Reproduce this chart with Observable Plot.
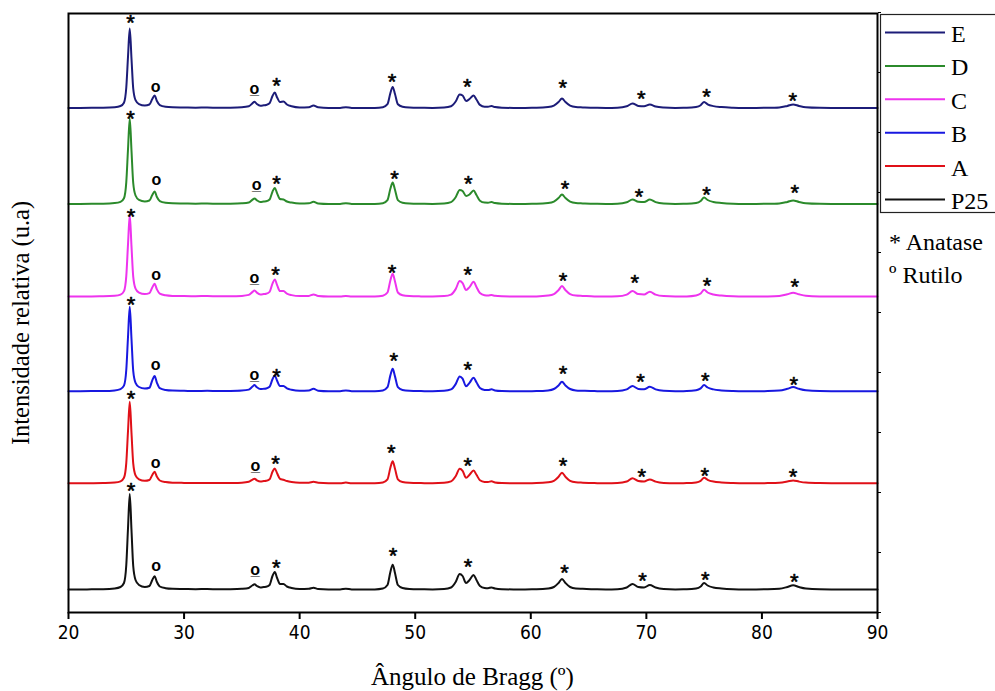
<!DOCTYPE html>
<html>
<head>
<meta charset="utf-8">
<script src="https://cdn.jsdelivr.net/npm/d3@7"></script>
<script src="https://cdn.jsdelivr.net/npm/@observablehq/plot@0.6"></script>
<style>
  html, body { margin: 0; padding: 0; background: #fff; }
  #chart { width: 995px; height: 691px; overflow: hidden; }
</style>
</head>
<body>
<div id="chart"></div>
<script>
// 2θ sample positions (degrees) shared by all patterns
const angles = [20,21,22,23,24,24.5,24.8,25.0,25.15,25.3,25.45,25.6,25.8,26.1,26.6,27.0,27.25,27.45,27.65,27.9,28.4,29,30,31,32,33,34,35,35.6,35.9,36.1,36.3,36.6,36.9,37.1,37.4,37.65,37.85,38.05,38.3,38.6,38.9,39.3,40,40.8,41.2,41.6,42.5,43.5,44.0,44.5,45.5,46.5,47.2,47.6,47.85,48.05,48.25,48.5,48.9,49.5,50.5,51.5,52.5,53.1,53.5,53.85,54.1,54.4,54.7,55.05,55.3,55.6,56.0,56.3,56.6,56.9,57.5,58.5,59.5,60.5,61.5,62.0,62.4,62.7,63.0,63.4,63.9,64.5,65.5,66.5,67.5,68.3,68.8,69.3,69.8,70.3,70.8,71.5,72.5,73.5,74.3,74.7,75.0,75.3,75.8,76.5,77.5,78.5,79.5,80.5,81.5,82.2,82.7,83.2,83.8,85,86,87,88,89,90];

// intensities above each pattern's own baseline (u.a.)
const intensityE = [0.5,0.6,0.7,0.8,1.3, 2.5,5.8,21,52,80,50,20,8.3, 4.4,3, 4,9.5,13,7.5,3.4, 1.7,1.2,1,0.8,1,0.7,0.8,1.2, 2.2,5,6.7,4.5,2.8,3.2,3.5,5.2,12.5,16,11,6.5,7,4,2.2,1,1.3,3,1.2, 0.6,0.6,1.3,0.6,0.5,0.6, 1.3,4.3,15.4,21.6,14.5,4.3,1.8, 1,0.7,0.6,1, 2.3,7,14,13,7.5,9.5,13,9,3.6,1.8,1.8,2.5,1.4, 0.8,0.6,0.6,0.7, 1.4,2.8,6.4,10,6.4,2.8,1.4, 1.1,0.7,0.6,0.8, 2.2,5,2.6,2.2,4,2, 1,0.6,0.7, 1.5,3.3,6.6,4.2,2.4, 1.4,0.8,0.6,0.6,0.7, 1.1,2.6,4,2.6,1.3, 0.7,0.6,0.6,0.5,0.6,0.5];
const intensityD = [0.5,0.6,0.7,0.8,1.4, 2.7,6.3,22.4,55.5,86,54,21.5,9, 4.6,3, 4,9.5,13,7.5,3.4, 1.7,1.2,1,0.8,1,0.7,0.8,1.2, 2,4.6,6,4.2,2.6,3,3.2,5,12.8,16.6,11.2,5.5,5,3,1.9,1,1.2,2.7,1.1, 0.6,0.6,1.2,0.6,0.5,0.6, 1.3,4.4,15.7,22,14.8,4.4,1.8, 1,0.7,0.6,1, 2.4,7.3,14.6,13.5,8.5,10,14,9.5,3.8,1.9,1.8,2.5,1.4, 0.8,0.6,0.6,0.7, 1.4,2.8,6.4,10,6.4,2.8,1.4, 1.1,0.7,0.6,0.8, 2.2,5,2.7,2.4,5,2.4, 1,0.6,0.7, 1.5,3.5,7,4.5,2.5, 1.5,0.8,0.6,0.6,0.7, 1.1,2.6,4,2.6,1.3, 0.7,0.6,0.6,0.5,0.6,0.5];
const intensityC = [0.5,0.6,0.7,0.8,1.3, 2.5,6,21,53,82,51,20.5,8.5, 4.5,3, 4,9.7,13.3,7.7,3.5, 1.8,1.2,1,0.9,1.1,0.8,0.8,1.2, 2.2,5,6.7,4.5,2.7,3.1,3.4,5.2,13.5,17.7,12,6,6,3.5,2,1,1.2,2.7,1.1, 0.6,0.6,1.2,0.6,0.5,0.6, 1.4,4.6,16.6,23.3,15.6,4.6,1.8, 1,0.7,0.6,1, 2.5,8,16,14,7,10,15.3,10.2,4,1.9,1.6,2,1.3, 0.8,0.6,0.6,0.7, 1.5,3,7,11,7,3,1.5, 1.2,0.7,0.6,0.8, 2.5,6,3,2.6,5.3,2.5, 1,0.6,0.7, 1.6,3.6,7.3,4.6,2.6, 1.5,0.8,0.6,0.6,0.7, 1.1,2.8,4.3,2.8,1.4, 0.7,0.6,0.6,0.5,0.6,0.5];
const intensityB = [0.5,0.6,0.7,0.8,1.4, 2.7,6.2,22,55,85,53,21,9, 4.8,3.2, 4,11.5,15.7,9,3.6, 1.8,1.2,1,0.8,1,0.7,0.8,1.2, 2.2,5,6.7,4.5,2.7,3,3.3,5,12.5,16.3,11,5.8,5.7,3.4,2,1,1.3,3,1.1, 0.6,0.6,1.3,0.6,0.5,0.6, 1.4,4.6,16.4,23,15.4,4.6,1.8, 1,0.7,0.6,1, 2.4,7.7,15.4,13.2,5.5,9,14,9.5,3.8,1.9,1.7,2.5,1.4, 0.8,0.6,0.6,0.7, 1.4,2.8,6.4,10,6.4,2.8,1.4, 1.1,0.7,0.6,0.8, 2.4,5.7,2.9,2.5,5,2.4, 1,0.6,0.7, 1.5,3.4,6.7,4.3,2.4, 1.4,0.8,0.6,0.6,0.7, 1.2,3,4.7,3,1.5, 0.7,0.6,0.6,0.5,0.6,0.5];
const intensityA = [0.6,0.5,0.6,0.8,1.3, 2.5,6,21,53,82,51,20.5,8.5, 4.5,3, 3.8,8.8,12,7,3.3, 1.7,1.1,0.9,0.8,0.9,0.7,0.8,1.1, 2,4,5,3.5,2.3,2.7,3,4.5,12,15.4,10.5,5,4,2.8,1.8,1,1.1,2,1, 0.6,0.6,1.2,0.6,0.5,0.6, 1.4,4.5,16,22.6,15,4.5,1.8, 1,0.7,0.6,1, 2.4,7.5,15,13,6,9,13.3,9,3.6,1.9,1.8,2.6,1.4, 0.8,0.6,0.6,0.7, 1.5,3,7,11,7,3,1.5, 1.1,0.7,0.6,0.8, 2.3,5.6,2.8,2.3,4.4,2.2, 0.9,0.6,0.7, 1.4,3,6,4,2.2, 1.3,0.8,0.6,0.6,0.7, 1,2.2,3.4,2.2,1.2, 0.7,0.6,0.6,0.5,0.6,0.5];
const intensityP25 = [0.5,0.5,0.7,0.8,1.5, 3,7,25,62,96,60,24,10, 5,3, 4,10,13.7,8,3.5, 1.8,1.2,1,0.8,1.0,0.7,0.8,1.2, 2,4.5,5.7,4,2.5,3,3.2,5,14,18,12,6,6,3.5,2,1,1.2,2.3,1, 0.6,0.6,1.3,0.6,0.5,0.6, 1.5,5,18,25.3,17,5,2, 1,0.7,0.6,1, 2.5,8,16,14,7,10,15,10,4,2,1.8,2.6,1.5, 0.8,0.6,0.6,0.7, 1.5,3,7,11,7,3,1.5, 1.2,0.7,0.6,0.8, 2.5,6,3,2.5,5,2.5, 1,0.6,0.7, 1.5,3.5,7,4.5,2.5, 1.5,0.8,0.6,0.6,0.7, 1.2,3,4.7,3,1.5, 0.7,0.6,0.6,0.5,0.6,0.5];

const seriesNames = ["E", "D", "C", "B", "A", "P25"];
const seriesIntensity = [intensityE, intensityD, intensityC, intensityB, intensityA, intensityP25];
const seriesColors = ["#1c1c78", "#2b8a2b", "#ee33ee", "#1818e0", "#e01018", "#111111"];
const stackOffsets = [504, 408, 315.4, 220.7, 128.7, 22.5];

// anatase (*) marker positions per pattern
const anataseAngles = [
  [25.36, 38.0, 48.0, 54.5, 62.77, 69.55, 75.2, 82.67],
  [25.36, 38.0, 48.2, 54.6, 62.97, 69.37, 75.2, 82.84],
  [25.42, 37.92, 48.0, 54.55, 62.8, 69.0, 75.26, 82.84],
  [25.42, 38.0, 48.15, 54.55, 62.8, 69.5, 75.1, 82.76],
  [25.42, 37.92, 47.92, 54.55, 62.8, 69.6, 75.06, 82.7],
  [25.42, 37.97, 48.09, 54.58, 62.91, 69.67, 75.1, 82.81]
];
const anataseLevels = [
  [595.3, 533, 537, 532, 530.3, 519.3, 521.3, 518],
  [499.3, 435, 439.3, 434.3, 429.3, 421.3, 423.7, 426],
  [402, 343.7, 346, 343.7, 337.7, 336, 332.5, 331.3],
  [313.7, 242, 258, 248.7, 244.3, 237, 237.7, 233.7],
  [219.3, 154.3, 165.3, 152.7, 153, 142, 142.7, 142],
  [127.7, 50.3, 62.7, 52, 45.3, 38, 38.7, 36.3]
];
// rutile (o) marker positions per pattern
const rutileAngles = [
  [27.53, 36.09], [27.61, 36.27], [27.59, 36.09], [27.53, 36.09], [27.53, 36.18], [27.59, 36.15]
];
const rutileLevels = [
  [526, 524], [432.7, 428], [338, 334.7], [247.7, 237.7], [150, 147], [47, 43]
];
const rutileSymbols = ["o", "o\u0332"];

const xTicks = [20, 30, 40, 50, 60, 70, 80, 90];
const yTicks = [0, 60, 120, 180, 240, 300, 360, 420, 480, 540, 600];

const xTitle = "Ângulo de Bragg (º)";
const yTitle = "Intensidade relativa (u.a)";
const legendNotes = ["* Anatase", "º Rutilo"];

// build tables
const rows = [];
seriesNames.forEach((name, s) => {
  seriesIntensity[s].forEach((v, i) => rows.push({name, angle: angles[i], level: stackOffsets[s] + v}));
});
const stars = [];
anataseAngles.forEach((arr, s) => arr.forEach((a, i) => stars.push({angle: a, level: anataseLevels[s][i]})));
const rutiles = [];
rutileAngles.forEach((arr, s) => arr.forEach((a, i) => rutiles.push({angle: a, level: rutileLevels[s][i], sym: rutileSymbols[i]})));

const W = 995, H = 691, mL = 68, mR = 118, mT = 13, mB = 79;
const serif = "'Liberation Serif', 'Times New Roman', serif";

const chart = Plot.plot({
  width: W, height: H,
  marginLeft: mL, marginRight: mR, marginTop: mT, marginBottom: mB,
  style: {fontFamily: "'Liberation Sans Narrow', 'DejaVu Sans Condensed', sans-serif", fontSize: "19px", color: "#000", background: "#fff"},
  x: {domain: [20, 90]},
  y: {domain: [0, 599]},
  color: {domain: seriesNames, range: seriesColors},
  marks: [
    Plot.line(rows, {x: "angle", y: "level", z: "name", stroke: "name", strokeWidth: 2, curve: "monotone-x"}),
    Plot.text(stars, {x: "angle", y: "level", text: () => "*", dy: 6, fontSize: 22, fontFamily: "'Liberation Sans', sans-serif", fill: "#000", stroke: "#000", strokeWidth: 0.6}),
    Plot.text(rutiles, {x: "angle", y: "level", text: "sym", fontSize: 16, fontWeight: "bold", fontFamily: "'Liberation Sans', sans-serif", fill: "#000"}),
    Plot.axisX({ticks: xTicks, tickSize: 7, tickPadding: 6, strokeWidth: 2, label: null, fontSize: 19}),
    Plot.axisY({anchor: "right", ticks: yTicks, tickSize: 3, tickFormat: () => "", label: null}),
    Plot.frame({stroke: "#000", strokeWidth: 2})
  ]
});
document.getElementById("chart").appendChild(chart);

// axis titles and legend
const svg = d3.select(chart);
svg.append("text")
  .attr("x", (mL + (W - mR)) / 2).attr("y", 685)
  .attr("text-anchor", "middle")
  .style("font-family", serif)
  .style("font-size", "25px")
  .text(xTitle);
svg.append("text")
  .attr("transform", "translate(29,323) rotate(-90)")
  .attr("text-anchor", "middle")
  .style("font-family", serif)
  .style("font-size", "24.5px")
  .text(yTitle);

const lg = svg.append("g");
lg.append("rect").attr("x", 880.5).attr("y", 14.5).attr("width", 130).attr("height", 198)
  .attr("fill", "#fff").attr("stroke", "#222").attr("stroke-width", 1.2);
seriesNames.forEach((name, i) => {
  const yy = 32.5 + i * 33.4;
  lg.append("line").attr("x1", 885).attr("x2", 945).attr("y1", yy).attr("y2", yy)
    .attr("stroke", seriesColors[i]).attr("stroke-width", 2);
  lg.append("text").attr("x", 951).attr("y", yy + 9.5)
    .attr("text-anchor", "start")
    .style("font-family", serif)
    .style("font-size", "24px").text(name);
});
legendNotes.forEach((t, i) => {
  lg.append("text").attr("x", 889).attr("y", 250 + i * 33)
    .attr("text-anchor", "start")
    .style("font-family", serif)
    .style("font-size", "24px").text(t);
});
</script>
</body>
</html>
